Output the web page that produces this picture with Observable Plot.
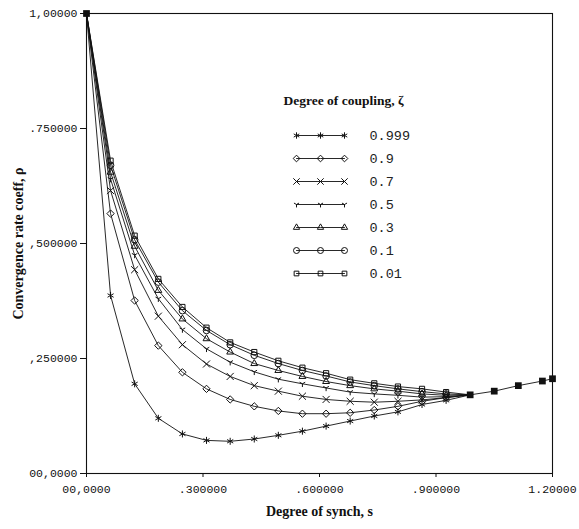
<!DOCTYPE html>
<html>
<head>
<meta charset="utf-8">
<script src="https://cdn.jsdelivr.net/npm/d3@7"></script>
<script src="https://cdn.jsdelivr.net/npm/@observablehq/plot@0.6"></script>
<style>
  body { margin: 0; background: #fff; }
  #wrap { position: relative; width: 579px; height: 529px; }
  #legend { position: absolute; left: 270px; top: 90px; }
</style>
</head>
<body>
<div id="wrap"></div>
<script>
// ---- Data ----
const s = [0, 0.062, 0.124, 0.185, 0.247, 0.309, 0.370, 0.432, 0.494, 0.556, 0.617, 0.679, 0.741, 0.802, 0.864, 0.926];
const sTail = [0.988, 1.050, 1.112, 1.174, 1.200];
const rhoTail = [0.171, 0.179, 0.191, 0.201, 0.206];

const rho0999 = [1.000, 0.387, 0.195, 0.120, 0.086, 0.072, 0.070, 0.075, 0.083, 0.092, 0.103, 0.114, 0.125, 0.134, 0.150, 0.159];
const rho09   = [1.000, 0.565, 0.376, 0.278, 0.220, 0.184, 0.161, 0.146, 0.136, 0.130, 0.130, 0.132, 0.138, 0.146, 0.157, 0.165];
const rho07   = [1.000, 0.615, 0.443, 0.342, 0.280, 0.238, 0.211, 0.191, 0.179, 0.168, 0.161, 0.157, 0.155, 0.157, 0.160, 0.165];
const rho05   = [1.000, 0.640, 0.475, 0.380, 0.313, 0.271, 0.242, 0.221, 0.205, 0.195, 0.186, 0.177, 0.173, 0.170, 0.166, 0.167];
const rho03   = [1.000, 0.655, 0.494, 0.398, 0.336, 0.293, 0.264, 0.239, 0.224, 0.211, 0.200, 0.191, 0.184, 0.179, 0.173, 0.170];
const rho01   = [1.000, 0.670, 0.508, 0.416, 0.354, 0.311, 0.280, 0.257, 0.239, 0.224, 0.212, 0.199, 0.191, 0.184, 0.178, 0.173];
const rho001  = [1.000, 0.680, 0.517, 0.423, 0.362, 0.317, 0.285, 0.264, 0.245, 0.230, 0.218, 0.204, 0.196, 0.189, 0.184, 0.177];

const zetaLabels = ["0.999", "0.9", "0.7", "0.5", "0.3", "0.1", "0.01"];
const xTicks = [0, 0.3, 0.6, 0.9, 1.2];
const xTickLabels = ["00,0000", ".300000", ".600000", ".900000", "1.20000"];
const yTicks = [0, 0.25, 0.5, 0.75, 1.0];
const yTickLabels = ["00,0000", ",250000", ",500000", ".750000", "1,00000"];
const xLabel = "Degree of synch, s";
const yLabel = "Convergence rate coeff, ρ";
const legendTitle = "Degree of coupling, ζ";

// ---- Symbols ----
const wyeStroke = {
  draw(ctx, size) {
    const r = Math.sqrt(size) * 0.55;
    ctx.moveTo(0, 0); ctx.lineTo(0, r);
    ctx.moveTo(0, 0); ctx.lineTo(-r * 0.87, -r * 0.5);
    ctx.moveTo(0, 0); ctx.lineTo(r * 0.87, -r * 0.5);
  }
};
const symbols = ["asterisk", "diamond2", "times", wyeStroke, "triangle2", "circle", "square2"];
const seriesValues = [rho0999, rho09, rho07, rho05, rho03, rho01, rho001];

const series = zetaLabels.map((z, j) => {
  const rows = s.map((x, i) => ({zeta: z, x, y: seriesValues[j][i], k: i}));
  rows.push({zeta: z, x: sTail[0], y: rhoTail[0], k: s.length});
  return {zeta: z, rows, symbol: symbols[j]};
});
const tail = sTail.map((x, i) => ({x, y: rhoTail[i]}));
const shared = [{x: s[0], y: rho0999[0]}, ...tail];

const font = "'Liberation Mono', 'DejaVu Sans Mono', monospace";
const serif = "'Liberation Serif', 'DejaVu Serif', serif";

const marks = [
  Plot.frame({stroke: "#111", strokeWidth: 1.1}),
  Plot.axisX({ticks: xTicks, tickFormat: (d) => xTickLabels[xTicks.indexOf(d)], tickSize: 4, tickPadding: 7,
               label: null, fontFamily: font, fontSize: 11.5, stroke: "#111"}),
  Plot.axisY({ticks: yTicks, tickFormat: (d) => yTickLabels[yTicks.indexOf(d)], tickSize: 6, tickPadding: 3,
              label: null, fontFamily: font, fontSize: 11.5, stroke: "#111"}),
  Plot.text([yLabel], {frameAnchor: "left", dx: -68, rotate: -90, textAnchor: "middle", lineAnchor: "middle",
                       fontFamily: serif, fontWeight: "bold", fontSize: 14, fill: "#111"}),
  Plot.text([xLabel], {frameAnchor: "bottom", dy: 42, textAnchor: "middle", fontFamily: serif, fontWeight: "bold", fontSize: 14, fill: "#111"}),
];
for (const ser of series) {
  marks.push(Plot.line(ser.rows, {x: "x", y: "y", stroke: "#111", strokeWidth: 0.9}));
  marks.push(Plot.dot(ser.rows.filter(d => d.k >= 1 && d.k < s.length),
    {x: "x", y: "y", symbol: ser.symbol, r: 3.3, fill: "none", stroke: "#111", strokeWidth: 1}));
}
marks.push(Plot.line(tail, {x: "x", y: "y", stroke: "#111", strokeWidth: 0.9}));
marks.push(Plot.dot(shared, {x: "x", y: "y", symbol: "square", r: 3.8, fill: "#111"}));

const chart = Plot.plot({
  width: 579, height: 529,
  marginLeft: 86, marginRight: 27, marginTop: 13, marginBottom: 56,
  x: {domain: [0, 1.2]},
  y: {domain: [0, 1]},
  style: {background: "#fff", fontFamily: font, fontSize: "11.5px", color: "#111"},
  marks
});

// ---- Legend (separate small plot overlaid inside the frame) ----
const legendPos = [0, 1, 2];
const legendRows = [];
series.forEach(ser => legendPos.forEach(p => legendRows.push({zeta: ser.zeta, p})));
const legendMarks = [
  Plot.text([legendTitle], {frameAnchor: "top-left", dx: 13, dy: 5, fontFamily: serif, fontWeight: "bold", fontSize: 13.5, fill: "#111"}),
];
for (const ser of series) {
  const rows = legendRows.filter(d => d.zeta === ser.zeta);
  legendMarks.push(Plot.line(rows, {x: "p", y: "zeta", stroke: "#111", strokeWidth: 0.9}));
  legendMarks.push(Plot.dot(rows, {x: "p", y: "zeta", symbol: ser.symbol, r: 3, fill: "none", stroke: "#111", strokeWidth: 1}));
}
legendMarks.push(Plot.text(zetaLabels, {x: () => 2, y: d => d, dx: 25, textAnchor: "start", fontFamily: font, fontSize: 13.5, fill: "#222", style: "letter-spacing:1.5px"}));

const legend = Plot.plot({
  width: 200, height: 200,
  margin: 0,
  x: {domain: [0, 2], range: [26, 74], axis: null},
  y: {type: "point", domain: zetaLabels, range: [45, 183], padding: 0, axis: null},
  style: {background: "transparent", overflow: "visible"},
  marks: legendMarks
});
legend.id = "legend";

const wrap = document.getElementById("wrap");
wrap.appendChild(chart);
wrap.appendChild(legend);
</script>
</body>
</html>
